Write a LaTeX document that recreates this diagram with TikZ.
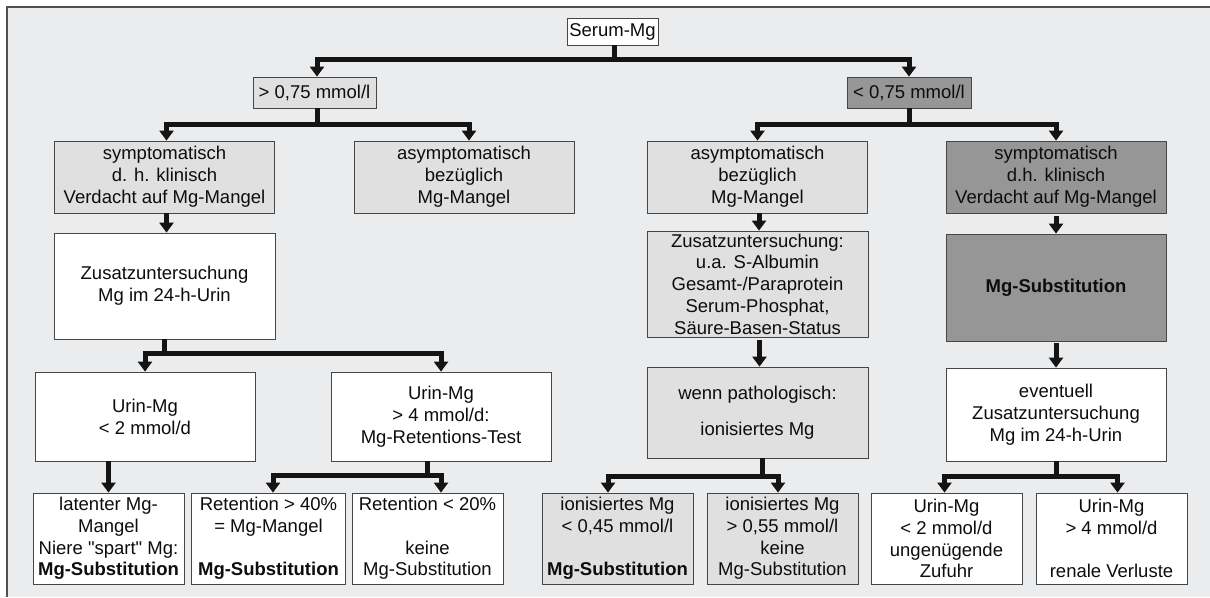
\documentclass[tikz,border=0pt]{standalone}
\usepackage{fontspec}
\setmainfont{Liberation Sans}[Ligatures=TeXOff]
\usetikzlibrary{arrows.meta}
\definecolor{bgc}{RGB}{235,236,238}
\definecolor{lightfill}{RGB}{224,224,224}
\definecolor{darkfill}{RGB}{150,150,150}
\definecolor{framec}{RGB}{80,80,80}
\definecolor{boxline}{RGB}{70,70,70}
\newcommand\boxfont{\fontsize{18.5}{21.8}\selectfont}
\begin{document}
\begin{tikzpicture}[x=1pt,y=-1pt,
  box/.style={draw=boxline, line width=0.8pt, align=center, inner sep=0pt,
              font=\boxfont, text=black!95},
  lightbox/.style={box, fill=lightfill},
  darkbox/.style={box, fill=darkfill},
  whitebox/.style={box, fill=white},
  row2/.style={minimum width=220pt, minimum height=72pt},
  bottom/.style={minimum width=151pt, minimum height=91pt},
  conn/.style={line width=5pt, draw=black!92, line join=miter},
  arr/.style={conn, -{Triangle[width=14pt,length=10pt]}}]
\useasboundingbox (0,0) rectangle (1210,597);
\fill[bgc] (7,7) rectangle (1210,597);
\draw[framec, line width=1.5pt] (7,597) -- (7,7) -- (1210,7);

% top
\node[whitebox, minimum width=91pt, minimum height=27pt] (serum) at (612.5,31.5) {Serum-Mg};
\node[lightbox, minimum width=123pt, minimum height=31pt] (gt) at (314.5,92.5) {> 0,75 mmol/l};
\node[darkbox, minimum width=124pt, minimum height=31pt] (lt) at (909,92.5) {< 0,75 mmol/l};

% row 2
\node[lightbox, row2] (A) at (164.5,177) {symptomatisch\\d. h. klinisch\\Verdacht auf Mg-Mangel};
\node[lightbox, row2] (B) at (464,177) {asymptomatisch\\bezüglich\\Mg-Mangel};
\node[lightbox, row2] (C) at (757.5,177) {asymptomatisch\\bezüglich\\Mg-Mangel};
\node[darkbox, row2] (D) at (1056,177) {symptomatisch\\d.h. klinisch\\Verdacht auf Mg-Mangel};

% row 3
\node[whitebox, minimum width=221pt, minimum height=106pt] (A2) at (164.5,286) {Zusatzuntersuchung\\Mg im 24-h-Urin};
\node[lightbox, minimum width=221pt, minimum height=106pt] (C2) at (757.5,284) {Zusatzuntersuchung:\\u.a. S-Albumin\\Gesamt-/Paraprotein\\Serum-Phosphat,\\Säure-Basen-Status};
\node[darkbox, minimum width=220pt, minimum height=107pt] (D2) at (1056,287.5) {\textbf{Mg-Substitution}};

% row 4
\node[whitebox, minimum width=220pt, minimum height=89pt] (A3) at (145,416.5) {Urin-Mg\\< 2 mmol/d};
\node[whitebox, minimum width=220pt, minimum height=89pt] (A4) at (441,416.5) {Urin-Mg\\> 4 mmol/d:\\Mg-Retentions-Test};
\node[lightbox, minimum width=221pt, minimum height=91pt] (C3) at (757.5,412.5) {wenn pathologisch:\\[14pt]ionisiertes Mg};
\node[whitebox, minimum width=220pt, minimum height=93pt] (D3) at (1056,414.5) {eventuell\\Zusatzuntersuchung\\Mg im 24-h-Urin};

% bottom row
\node[whitebox, bottom] (b1) at (108.5,538.5) {latenter Mg-\\Mangel\\Niere "spart" Mg:\\\textbf{Mg-Substitution}};
\node[whitebox, bottom, minimum width=154pt] (b2) at (268.5,538.5) {Retention > 40\%\\= Mg-Mangel\\\strut\\\textbf{Mg-Substitution}};
\node[whitebox, bottom] (b3) at (427.5,538.5) {Retention < 20\%\\\strut\\keine\\Mg-Substitution};
\node[lightbox, bottom] (b4) at (617.5,538.5) {ionisiertes Mg\\< 0,45 mmol/l\\\strut\\\textbf{Mg-Substitution}};
\node[lightbox, bottom] (b5) at (782.5,538.5) {ionisiertes Mg\\> 0,55 mmol/l\\keine\\Mg-Substitution};
\node[whitebox, bottom] (b6) at (946.5,538.5) {Urin-Mg\\< 2 mmol/d\\ungenügende\\Zufuhr};
\node[whitebox, bottom] (b7) at (1111.5,538.5) {Urin-Mg\\> 4 mmol/d\\\strut\\renale Verluste};

% connectors
\draw[conn] ([xshift=1.5pt]serum.south) -- ++(0,14) coordinate (j0);
\draw[arr] (j0) -| ([xshift=2.5pt]gt.north);
\draw[arr] (j0) -| (lt.north);

\draw[conn] ([xshift=2.5pt]gt.south) -- ++(0,16) coordinate (j1);
\draw[arr] (j1) -| ([xshift=2pt]A.north);
\draw[arr] (j1) -| ([xshift=5pt]B.north);
\draw[conn] (lt.south) -- ++(0,16) coordinate (j2);
\draw[arr] (j2) -| (C.north);
\draw[arr] (j2) -| (D.north);

\draw[arr] ([xshift=2pt]A.south) -- ([xshift=2pt]A2.north);
\draw[conn] (A2.south) -- ++(0,14) coordinate (j3);
\draw[arr] (j3) -| (A3.north);
\draw[arr] (j3) -| (A4.north);
\draw[arr] (A3.south -| b1.north) -- (b1.north);
\draw[conn] (A4.south -| b3.north) -- ++(0,14) coordinate (j5);
\draw[arr] (j5) -| ([xshift=4.5pt]b2.north);
\draw[arr] (j5) -| (b3.north -| A4.south);

\draw[arr] ([xshift=1.5pt]C.south) -- ([xshift=1.5pt]C2.north);
\draw[arr, shorten <=3pt] ([xshift=2pt]C2.south) -- ([xshift=2pt]C3.north);
\draw[conn] ([xshift=5pt]C3.south) -- ++(0,18) coordinate (j6);
\draw[arr] (j6) -| ([xshift=-9.5pt]b4.north);
\draw[arr] (j6) -| ([xshift=-4.5pt]b5.north);

\draw[arr, shorten <=3pt] (D.south) -- (D2.north);
\draw[arr, shorten <=2pt] (D2.south) -- (D3.north);
\draw[conn] (D3.south) -- ++(0,15) coordinate (j7);
\draw[arr] (j7) -| ([xshift=-2pt]b6.north);
\draw[arr] (j7) -| ([xshift=6pt]b7.north);
\end{tikzpicture}
\end{document}
